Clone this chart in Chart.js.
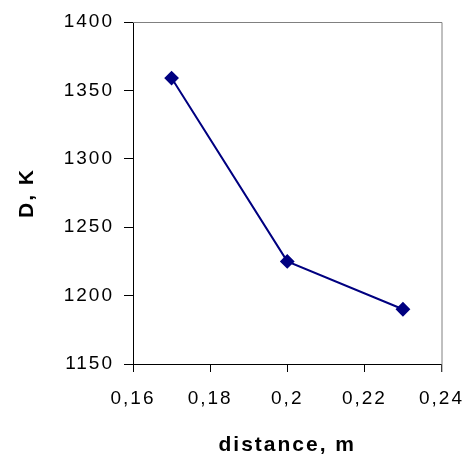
<!DOCTYPE html>
<html>
<head>
<meta charset="utf-8">
<script src="https://cdn.jsdelivr.net/npm/chart.js@4"></script>
<style>
  html, body { margin: 0; padding: 0; background: #fff; }
  #wrap { width: 475px; height: 459px; }
</style>
</head>
<body>
<div id="wrap"><canvas id="chart" width="475" height="459"></canvas></div>
<script>
const distances = [0.17, 0.2, 0.23];
const dValues = [1359, 1225, 1190];
const xTicks = [0.16, 0.18, 0.2, 0.22, 0.24];
const yTicks = [1150, 1200, 1250, 1300, 1350, 1400];

// comma as decimal separator, like the original
function commaLabel(v) {
  return Number(v.toFixed(2)).toString().replace(".", ",");
}

// wide letter spacing of the original text
const spacingPlugin = {
  id: "spacing",
  beforeDraw(chart) {
    chart.ctx.letterSpacing = "2px";
  }
};

// gray top and right frame lines
const framePlugin = {
  id: "frame",
  beforeDatasetsDraw(chart) {
    const a = chart.chartArea;
    const ctx = chart.ctx;
    ctx.save();
    ctx.strokeStyle = "#808080";
    ctx.lineWidth = 1;
    ctx.beginPath();
    ctx.moveTo(a.left, a.top + 0.5);
    ctx.lineTo(a.right + 0.5, a.top + 0.5);
    ctx.lineTo(a.right + 0.5, a.bottom + 8);
    ctx.stroke();
    ctx.restore();
  }
};

const ctx = document.getElementById("chart").getContext("2d");
new Chart(ctx, {
  type: "scatter",
  data: {
    datasets: [{
      data: distances.map((x, i) => ({ x: x, y: dValues[i] })),
      showLine: true,
      borderColor: "#000080",
      borderWidth: 2,
      backgroundColor: "#000080",
      pointStyle: "rectRot",
      pointRadius: 6,
      pointHoverRadius: 6
    }]
  },
  options: {
    responsive: false,
    animation: false,
    layout: { padding: { left: 0, top: 22, right: 30, bottom: 0 } },
    plugins: { legend: { display: false }, tooltip: { enabled: false } },
    scales: {
      x: {
        type: "linear",
        min: 0.16,
        max: 0.24,
        afterBuildTicks: s => { s.ticks = xTicks.map(v => ({ value: v })); },
        afterFit: s => { s.height = 95; },
        grid: { drawOnChartArea: false, color: "#000", tickLength: 8 },
        border: { color: "#000", width: 1 },
        ticks: {
          color: "#000",
          padding: 15,
          maxRotation: 0,
          font: { family: "Liberation Sans, Arial", size: 19 },
          callback: v => commaLabel(v)
        },
        title: {
          display: true,
          text: "distance, m",
          color: "#000",
          padding: { top: 0, bottom: 1 },
          font: { family: "Liberation Sans, Arial", size: 21, weight: "bold" }
        }
      },
      y: {
        min: 1150,
        max: 1400,
        afterBuildTicks: s => { s.ticks = yTicks.map(v => ({ value: v })); },
        afterFit: s => { s.width = 133; },
        grid: { drawOnChartArea: false, color: "#000", tickLength: 9 },
        border: { color: "#000", width: 1 },
        ticks: {
          color: "#000",
          padding: 10,
          font: { family: "Liberation Sans, Arial", size: 19 },
          callback: v => String(v)
        },
        title: {
          display: true,
          text: "D, K",
          color: "#000",
          padding: { top: 15, bottom: 0 },
          font: { family: "Liberation Sans, Arial", size: 21, weight: "bold" }
        }
      }
    }
  },
  plugins: [spacingPlugin, framePlugin]
});
</script>
</body>
</html>
